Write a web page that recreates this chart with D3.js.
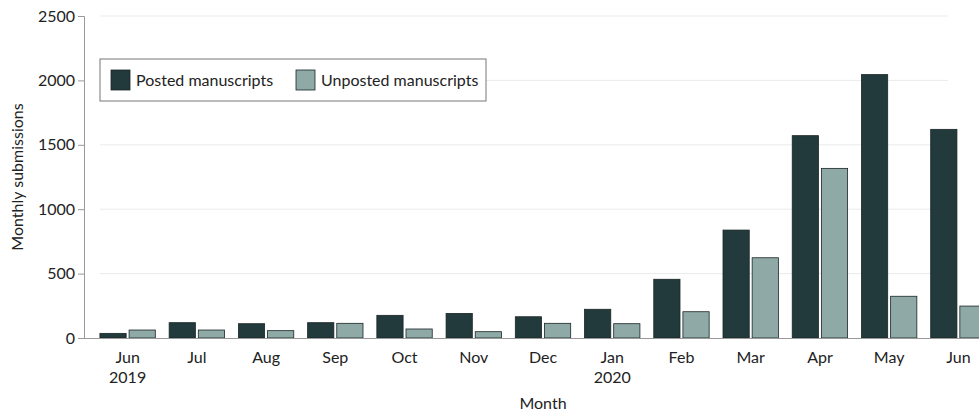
<!DOCTYPE html>
<html><head><meta charset="utf-8">
<script src="https://cdn.jsdelivr.net/npm/d3@7"></script>
<style>body{margin:0;background:#fff;} text{font-family:Lato,"Open Sans",sans-serif;fill:#222;}</style>
</head><body><svg id="c" width="979" height="415"></svg>
<script>
const months = ["Jun","Jul","Aug","Sep","Oct","Nov","Dec","Jan","Feb","Mar","Apr","May","Jun "];
const years = {"Jun":"2019","Jan":"2020"};
const posted = [36,119,111,119,176,191,165,223,456,838,1571,2045,1620];
const unposted = [62,62,57,114,70,49,114,111,204,623,1317,324,248];
const yTicks = [0,500,1000,1500,2000,2500];
const seriesNames = ["Posted manuscripts","Unposted manuscripts"];
const colors = ["#223a3c","#8fa9a7"];
const FS = "16px";

const svg = d3.select("#c");
const x = d3.scaleBand().domain(months).range([93,993]).paddingInner(0.2).paddingOuter(0.1);
const y = d3.scaleLinear().domain([0,2500]).range([338,16]);
const x1 = d3.scaleBand().domain([0,1]).range([0,x.bandwidth()]).paddingInner(0.1);

// gridlines
svg.append("g").selectAll("line").data(yTicks.filter(d=>d>0)).join("line")
  .attr("x1",100).attr("x2",948).attr("y1",d=>y(d)).attr("y2",d=>y(d))
  .attr("stroke","#ebebeb").attr("stroke-width",1);

// bars
const g = svg.append("g");
months.forEach((m,i)=>{
  [posted[i],unposted[i]].forEach((v,s)=>{
    g.append("rect").attr("x",x(m)+x1(s)).attr("y",y(v))
      .attr("width",x1.bandwidth()).attr("height",y(0)-y(v))
      .attr("fill",colors[s]).attr("stroke","#1a2526").attr("stroke-width",0.8);
  });
});

// y axis
const ya = svg.append("g").attr("transform","translate(84,0)")
  .call(d3.axisLeft(y).tickValues(yTicks).tickFormat(d3.format("d")).tickSize(6).tickPadding(3));
ya.select(".domain").attr("stroke","#999");
ya.selectAll(".tick line").attr("stroke","#999");
ya.selectAll(".tick text").style("font-size",FS).attr("fill","#222");

// x axis
const xa = svg.append("g").attr("transform","translate(0,338)")
  .call(d3.axisBottom(x).tickSize(0).tickPadding(14));
xa.select(".domain").attr("stroke","#999").attr("d","M84,0.5H979");
xa.selectAll(".tick text").style("font-size",FS).attr("fill","#222").text(d=>d.trim());
xa.selectAll(".tick").filter(d=>years[d]).append("text")
  .attr("y",34).attr("dy","0.71em").attr("text-anchor","middle").style("font-size",FS).attr("fill","#222")
  .text(d=>years[d]);

// axis titles
svg.append("text").attr("x",x("Dec")+x.bandwidth()/2).attr("y",409).attr("text-anchor","middle").style("font-size",FS).text("Month");
svg.append("text").attr("transform","translate(23,177) rotate(-90)").attr("text-anchor","middle").style("font-size",FS).text("Monthly submissions");

// legend
const lg = svg.append("g");
lg.append("rect").attr("x",100).attr("y",59).attr("width",386).attr("height",42)
  .attr("fill","#fff").attr("stroke","#777").attr("stroke-width",1);
const lx = [111,296];
seriesNames.forEach((n,i)=>{
  lg.append("rect").attr("x",lx[i]).attr("y",70).attr("width",19).attr("height",20)
    .attr("fill",colors[i]).attr("stroke","#1a2526").attr("stroke-width",0.8);
  lg.append("text").attr("x",lx[i]+25).attr("y",86).style("font-size",FS).text(n);
});
</script></body></html>
